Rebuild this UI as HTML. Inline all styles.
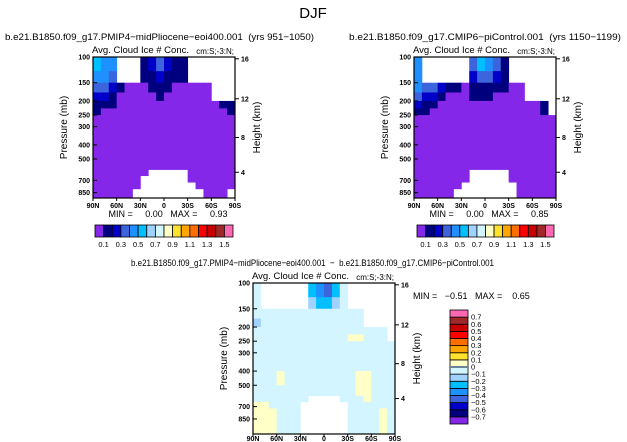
<!DOCTYPE html>
<html><head><meta charset="utf-8"><style>
html,body{margin:0;padding:0;background:#fff;}
svg{display:block;font-family:"Liberation Sans",sans-serif;}
svg text{white-space:pre;}
</style></head><body>
<svg id="fig" width="627" height="442" viewBox="0 0 627 442" xmlns="http://www.w3.org/2000/svg">
<text x="313" y="18" font-size="15" text-anchor="middle" fill="#000" font-weight="300">DJF</text>
</svg>
<script>
// ---------- data ----------
const latEdges = [90,80,70,60,50,40,30,20,10,0,-10,-20,-30,-40,-50,-60,-70,-80,-90];
const presEdges = [100,125,150,175,200,225,250,300,400,500,590,650,720,800,1100];
const pTicks = [100,150,200,250,300,400,500,700,850];
const hTicks = [4,8,12,16];
const latTicks = [90,60,30,0,-30,-60,-90];
const latTickLabels = ["90N","60N","30N","0","30S","60S","90S"];
const W = -9;
const plioValues = [
 [0.55,0.45,0.45,W,W,W,0.15,0.25,0.35,0.25,0.15,0.15,W,W,W,W,W,W],
 [0.45,0.45,0.35,W,W,W,0.15,0.15,0.25,0.15,0.15,0.15,W,W,W,W,W,W],
 [0.35,0.35,0.25,0.15,0.05,0.05,0.05,0.15,0.15,0.15,0.05,0.05,0.05,0.05,0.05,W,W,W],
 [0.25,0.25,0.15,0.05,0.05,0.05,0.05,0.05,0.15,0.05,0.05,0.05,0.05,0.05,0.05,W,W,W],
 [0.15,0.15,0.15,0.05,0.05,0.05,0.05,0.05,0.05,0.05,0.05,0.05,0.05,0.05,0.05,0.05,0.15,0.15],
 [0.15,0.05,0.05,0.05,0.05,0.05,0.05,0.05,0.05,0.05,0.05,0.05,0.05,0.05,0.05,0.05,0.05,0.15],
 [0.05,0.05,0.05,0.05,0.05,0.05,0.05,0.05,0.05,0.05,0.05,0.05,0.05,0.05,0.05,0.05,0.05,0.05],
 [0.05,0.05,0.05,0.05,0.05,0.05,0.05,0.05,0.05,0.05,0.05,0.05,0.05,0.05,0.05,0.05,0.05,0.05],
 [0.05,0.05,0.05,0.05,0.05,0.05,0.05,0.05,0.05,0.05,0.05,0.05,0.05,0.05,0.05,0.05,0.05,0.05],
 [0.05,0.05,0.05,0.05,0.05,0.05,0.05,0.05,0.05,0.05,0.05,0.05,0.05,0.05,0.05,0.05,0.05,0.05],
 [0.05,0.05,0.05,0.05,0.05,0.05,0.05,W,W,W,W,W,0.05,0.05,0.05,0.05,0.05,0.05],
 [0.05,0.05,0.05,0.05,0.05,0.05,W,W,W,W,W,W,0.05,0.05,0.05,0.05,0.05,0.05],
 [0.05,0.05,0.05,0.05,0.05,0.05,W,W,W,W,W,W,W,0.05,0.05,0.05,0.05,0.05],
 [0.05,0.05,0.05,0.05,0.05,W,W,W,W,W,W,W,W,W,0.05,0.05,0.05,W]
];
const ctrlValues = [
 [0.45,W,W,W,W,W,W,0.35,0.55,0.45,0.35,0.15,W,W,W,W,W,W],
 [0.45,W,W,W,W,W,W,0.25,0.35,0.35,0.25,0.15,W,W,W,W,W,W],
 [0.45,0.35,0.35,0.25,0.15,0.15,0.05,0.15,0.15,0.15,0.15,0.15,0.05,0.05,W,W,W,W],
 [0.35,0.25,0.25,0.15,0.05,0.05,0.05,0.15,0.15,0.15,0.05,0.05,0.05,0.05,W,W,W,W],
 [0.25,0.15,0.15,0.05,0.05,0.05,0.05,0.05,0.05,0.05,0.05,0.05,0.05,0.05,0.05,0.05,0.15,W],
 [0.15,0.15,0.05,0.05,0.05,0.05,0.05,0.05,0.05,0.05,0.05,0.05,0.05,0.05,0.05,0.05,0.15,W],
 [0.05,0.05,0.05,0.05,0.05,0.05,0.05,0.05,0.05,0.05,0.05,0.05,0.05,0.05,0.05,0.05,0.05,0.05],
 [0.05,0.05,0.05,0.05,0.05,0.05,0.05,0.05,0.05,0.05,0.05,0.05,0.05,0.05,0.05,0.05,0.05,0.05],
 [0.05,0.05,0.05,0.05,0.05,0.05,0.05,0.05,0.05,0.05,0.05,0.05,0.05,0.05,0.05,0.05,0.05,0.05],
 [0.05,0.05,0.05,0.05,0.05,0.05,0.05,0.05,0.05,0.05,0.05,0.05,0.05,0.05,0.05,0.05,0.05,0.05],
 [0.05,0.05,0.05,0.05,0.05,0.05,0.05,W,W,W,W,W,0.05,0.05,0.05,0.05,0.05,0.05],
 [0.05,0.05,0.05,0.05,0.05,0.05,0.05,W,W,W,W,W,0.05,0.05,0.05,0.05,0.05,0.05],
 [0.05,0.05,0.05,0.05,0.05,0.05,W,W,W,W,W,W,W,0.05,0.05,0.05,0.05,0.05],
 [0.05,0.05,0.05,0.05,0.05,W,W,W,W,W,W,W,W,0.05,0.05,0.05,0.05,0.05]
];
const c=-0.05, yy=0.05;
const diffValues = [
 [c,W,W,W,W,W,W,-0.25,-0.35,-0.45,-0.25,c,W,W,W,W,W,W],
 [c,W,W,W,W,W,W,-0.15,-0.25,-0.25,-0.15,c,W,W,W,W,W,W],
 [c,c,c,c,c,c,c,c,c,c,c,c,c,c,W,W,W,W],
 [-0.15,c,c,c,c,c,c,c,c,c,c,c,c,c,W,W,W,W],
 [c,c,c,c,c,c,c,c,c,c,c,c,c,c,c,c,c,W],
 [c,c,c,c,c,c,c,c,c,c,c,c,yy,yy,c,c,c,W],
 [c,c,c,c,c,c,c,c,c,c,c,c,c,c,c,c,c,c],
 [c,c,c,c,c,c,c,c,c,c,c,c,c,c,c,c,c,c],
 [c,c,c,yy,c,c,c,c,c,c,c,c,c,yy,yy,c,c,c],
 [c,c,c,c,c,c,c,c,c,c,c,c,c,yy,yy,c,c,c],
 [c,c,c,c,c,c,c,W,W,W,W,c,c,c,yy,c,c,c],
 [yy,yy,c,c,c,c,W,W,W,W,W,W,c,c,c,c,c,c],
 [yy,yy,yy,c,c,c,W,W,W,W,W,W,c,c,c,c,yy,c],
 [yy,yy,yy,c,c,c,W,W,W,W,W,W,c,c,c,c,yy,c]
];
const absLevels = [0.1,0.2,0.3,0.4,0.5,0.6,0.7,0.8,0.9,1.0,1.1,1.2,1.3,1.4,1.5];
const absLabels = ["0.1","0.3","0.5","0.7","0.9","1.1","1.3","1.5"];
const diffLevels = [-0.7,-0.6,-0.5,-0.4,-0.3,-0.2,-0.1,0,0.1,0.2,0.3,0.4,0.5,0.6,0.7];
const diffLabels = ["\u22120.7","\u22120.6","\u22120.5","\u22120.4","\u22120.3","\u22120.2","\u22120.1","0","0.1","0.2","0.3","0.4","0.5","0.6","0.7"];
const palette = ["#8427e8","#00007e","#0000c8","#3c64dc","#1e90ff","#00bfff","#a0d2ff","#d2f5ff","#ffffc8","#ffe12e","#ffa500","#ff6e00","#ff0000","#c80000","#a02828","#ff69b4"];

// ---------- helpers ----------
const svg = document.getElementById('fig');
const NS = 'http://www.w3.org/2000/svg';
function mk(tag, attrs, parent){const e=document.createElementNS(NS,tag);for(const k in attrs)e.setAttribute(k,attrs[k]);(parent||svg).appendChild(e);return e;}
function colorFor(v, levels){let i=0;while(i<levels.length && v>=levels[i])i++;return palette[i];}
function hToP(h){const z=h*1000; if(z<=11000) return 1013.25*Math.pow(1-2.25577e-5*z,5.25588); return 226.32*Math.exp(-(z-11000)/6341.6);}

function panel(name, x0, y0, w, h, pBot, values, levels, title, titleX, titleLen, minmax, latOff){
  const g = mk('g',{});
  
  
  const xs = lat => x0 + (90-lat)/180*w;
  const ys = p => y0 + Math.log(p/100)/Math.log(pBot/100)*h;
  const cg = mk('g',{}, g);
  
  
  for(let r=0;r<values.length;r++){
    const pa=presEdges[r], pb=Math.min(presEdges[r+1],pBot);
    for(let j=0;j<values[r].length;j++){
      const v=values[r][j]; if(v<=-5) continue;
      const xa=xs(latEdges[j]), xb=xs(latEdges[j+1]);
      const rc = mk('rect',{x:xa,y:ys(pa),width:xb-xa+0.4,height:ys(pb)-ys(pa)+0.4,fill:colorFor(v,levels)},cg);
      
      
    }
  }
  const fr = mk('rect',{x:x0,y:y0,width:w,height:h,fill:'none',stroke:'#000','stroke-width':1.2},g);
  
  
  pTicks.forEach(p=>{
    const y=ys(p);
    mk('line',{x1:x0,x2:x0+4,y1:y,y2:y,stroke:'#000','stroke-width':1},g);
    const t=mk('text',{x:x0-3,y:y+2.5,'font-size':7,'text-anchor':'end','font-weight':'bold'},g);
    t.textContent=p;
    
    
  });
  hTicks.forEach(hk=>{
    const y=ys(hToP(hk));
    mk('line',{x1:x0+w,x2:x0+w+4,y1:y,y2:y,stroke:'#000','stroke-width':1},g);
    const t=mk('text',{x:x0+w+6,y:y+2.5,'font-size':7,'font-weight':'bold'},g);
    t.textContent=hk;
    
    
  });
  latTicks.forEach((lat,i)=>{
    const x=xs(lat);
    mk('line',{x1:x,x2:x,y1:y0+h,y2:y0+h+3,stroke:'#000','stroke-width':1},g);
    const t=mk('text',{x:x,y:y0+h+latOff,'font-size':7,'text-anchor':'middle','font-weight':'bold'},g);
    t.textContent=latTickLabels[i];
    
    
  });
  let t=mk('text',{x:x0-26,y:y0+h/2,'font-size':10,'text-anchor':'middle',transform:`rotate(-90 ${x0-26} ${y0+h/2})`},g);
  t.textContent='Pressure (mb)';
  
  
  t=mk('text',{x:x0+w+25,y:y0+h/2,'font-size':10,'text-anchor':'middle',transform:`rotate(-90 ${x0+w+25} ${y0+h/2})`},g);
  t.textContent='Height (km)';
  
  
  t=mk('text',{x:x0-1,y:y0-4,'font-size':9.5},g);
  t.textContent='Avg. Cloud Ice # Conc.';
  
  
  t=mk('text',{x:x0+w-1,y:y0-3,'font-size':8,'text-anchor':'end'},g);
  t.textContent='cm:S;-3:N;';
  
  
  if(title){
    t=mk('text',{x:titleX,y:y0-17,'font-size':9.5,textLength:titleLen,lengthAdjust:'spacingAndGlyphs'},g);
    t.textContent=title;
    
    
  }
  if(minmax){
    t=mk('text',{x:x0+w/2+4,y:y0+h+19,'font-size':9,'text-anchor':'middle'},g);
    t.textContent=minmax;
    
    
  }
}

function hbar(name,x0,y0,w,h){
  const g=mk('g',{});
  
  
  const bw=w/palette.length;
  palette.forEach((col,i)=>{
    const r=mk('rect',{x:x0+i*bw,y:y0,width:bw,height:h,fill:col,stroke:'#000','stroke-width':0.8},g);
    
    
  });
  absLabels.forEach((lb,i)=>{
    const t=mk('text',{x:x0+(1+2*i)*bw,y:y0+h+10,'font-size':7.5,'text-anchor':'middle'},g);
    t.textContent=lb;
    
    
  });
}
function vbar(name,x0,y0,w,h){
  const g=mk('g',{});
  
  
  const bh=h/palette.length;
  palette.forEach((col,i)=>{
    const r=mk('rect',{x:x0,y:y0+h-(i+1)*bh,width:w,height:bh,fill:col,stroke:'#000','stroke-width':0.8},g);
    
    
  });
  mk('line',{x1:x0,x2:x0+w,y1:y0+h-8*bh,y2:y0+h-8*bh,stroke:'#6a8499','stroke-width':2},g);
  diffLabels.forEach((lb,i)=>{
    const t=mk('text',{x:x0+w+3,y:y0+h-(i+1)*bh+2.5,'font-size':7.5},g);
    t.textContent=lb;
    
    
  });
}

panel('pliocene-panel',93,57,142,141,925,plioValues,absLevels,
  'b.e21.B1850.f09_g17.PMIP4\u2212midPliocene\u2212eoi400.001  (yrs 951\u22121050)',5,309,'MIN =     0.00   MAX =     0.93',10);
panel('picontrol-panel',414,57,142,141,925,ctrlValues,absLevels,
  'b.e21.B1850.f09_g17.CMIP6\u2212piControl.001  (yrs 1150\u22121199)',349,272,'MIN =     0.00   MAX =     0.85',10);
hbar('pliocene-colorbar',95,225,138,12);
hbar('picontrol-colorbar',417,225,137,12);
panel('difference-panel',253,283,142,151,1077,diffValues,diffLevels,null,0,0,null,7);
vbar('difference-colorbar',450,310,18,114);
let tt=mk('text',{x:131,y:266,'font-size':9.5,textLength:363,lengthAdjust:'spacingAndGlyphs'});
tt.textContent='b.e21.B1850.f09_g17.PMIP4\u2212midPliocene\u2212eoi400.001  \u2212  b.e21.B1850.f09_g17.CMIP6\u2212piControl.001';


tt=mk('text',{x:413,y:299,'font-size':9});
tt.textContent='MIN =   \u22120.51   MAX =    0.65';


</script>
</body></html>
